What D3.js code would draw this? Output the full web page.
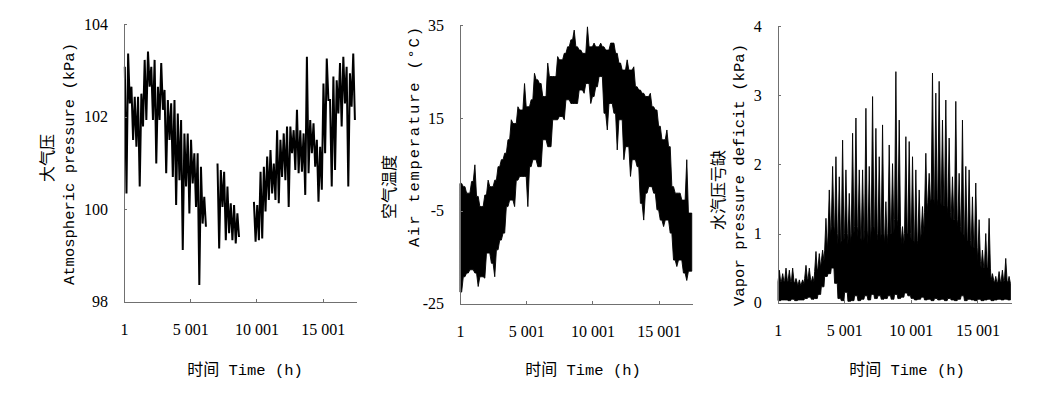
<!doctype html>
<html>
<head>
    <meta charset="utf-8"/>
    <style>
        html, body {
            width: 100%;
            height: 100%;
            margin: 0px;
            background: #fff;
        }
        svg {
            position: absolute;
            top: 0px;
            left: 0px;
        }
        .axis path, .axis line {
            fill: none;
            stroke: #707070;
            shape-rendering: crispEdges;
        }
        .axis text {
            font-family: 'Liberation Serif', 'Times New Roman', serif;
            font-size: 16px;
            fill: #000;
        }
        .title {
            font-family: 'Liberation Mono', monospace;
            font-size: 15.5px;
            fill: #000;
        }
        .cjk {
            font-family: 'Noto Sans CJK SC', sans-serif;
            font-size: 16px;
        }
        .trace {
            fill: none;
            stroke: #000;
            stroke-width: 2px;
        }
        .band {
            fill: #000;
            stroke: #000;
            stroke-width: 0.9px;
            stroke-linejoin: miter;
        }
    </style>
    <script src="https://d3js.org/d3.v7.min.js"></script>
</head>
<body>

<svg width="1038" height="394"></svg>

<script>

    // hourly record, binned: each bin keeps the high and low reading
    var BIN_HOURS = 250;
    var HOUR_MAX = 17520;

    var hourTicks = [1, 5001, 10001, 15001];
    var hourTickLabels = ["1", "5 001", "10 001", "15 001"];

    var pressureTicks = [98, 100, 102, 104];
    var temperatureTicks = [-25, -5, 15, 35];
    var vpdTicks = [0, 1, 2, 3, 4];

    // atmospheric pressure (kPa), null = no record
    var pressureHigh = [
        103.08, 103.37, 102.65, 102.43, 102.43, 102.5, 103.23, 103.41, 103.08, 103.23,
        102.65, 103.16, 102.58, 102.36, 102.29, 102.36, 102.07, 101.93, 101.64, 101.64,
        101.5, 101.21, 101.21, 100.92, 100.27, null, null, null, 100.99, 100.85,
        100.81, 100.49, 100.13, 100.09, 99.91, null, null, null, null, 100.16,
        100.09, 100.81, 100.92, 101.14, 101.28, 100.99, 101.71, 101.5, 101.64, 101.79,
        101.79, 101.71, 102.15, 101.71, 101.64, 103.3, 101.93, 101.86, 101.5, 101.35,
        102.72, 103.26, 102.36, 102.87, 102.79, 103.16, 103.3, 103.08, 102.94, 103.37
    ];
    var pressureLow = [
        100.34, 102.29, 101.5, 101.35, 100.49, 101.79, 101.93, 102.65, 101.93, 100.99,
        101.93, 102.15, 100.78, 101.5, 100.7, 100.09, 100.63, 99.12, 100.49, 99.91,
        100.56, 100.05, 98.36, 99.69, 99.62, null, null, null, 99.15, 100.05,
        99.33, 99.48, 99.33, 99.26, 99.4, null, null, null, null, 99.3,
        99.33, 99.37, 99.95, 100.2, 100.34, 100.2, 100.13, 100.7, 100.63, 100.05,
        101.21, 100.85, 100.78, 100.81, 100.31, 100.78, 101.21, 100.92, 100.16, 100.42,
        101.21, 102.36, 100.49, 100.85, 102.07, 101.79, 102.29, 100.49, 102.22, 101.93
    ];

    // air temperature (°C)
    var temperatureHigh = [
        0.9, 0.2, -1.2, 1.3, 4.9, -1.9, -4.1, -1.6, 1.6, 0.2,
        1.6, 4.5, 6.0, 7.4, 10.3, 14.6, 13.8, 17.4, 16.7, 22.4,
        17.4, 18.9, 24.6, 23.2, 22.4, 19.6, 26.8, 23.9, 23.9, 28.2,
        27.5, 28.9, 30.3, 31.8, 33.9, 30.3, 29.6, 28.9, 34.6, 30.3,
        31.1, 30.3, 31.1, 30.3, 29.6, 31.1, 31.1, 28.9, 26.8, 25.3,
        27.5, 25.3, 26.0, 21.7, 21.0, 20.3, 19.6, 20.3, 17.4, 16.7,
        13.2, 10.3, 12.4, 8.8, 0.2, -1.2, -1.2, -2.7, 6.0, -5.5
    ];
    var temperatureLow = [
        -22.5, -19.2, -18.4, -17.7, -18.4, -21.3, -19.2, -19.5, -14.1, -16.3,
        -19.2, -13.4, -11.3, -9.8, -4.1, -2.7, -4.1, 1.6, 2.4, 2.4,
        -4.1, 4.5, 6.0, 4.5, 4.5, 10.3, 8.8, 8.8, 14.6, 14.6,
        15.3, 14.6, 18.9, 18.1, 18.1, 18.1, 21.0, 20.3, 22.4, 18.1,
        19.6, 21.7, 23.9, 16.0, 12.4, 18.1, 16.0, 8.1, 14.6, 6.0,
        8.8, 2.4, 6.0, 4.5, -3.4, -7.0, -1.2, 0.2, -1.2, -4.8,
        -7.0, -8.4, -7.0, -9.8, -15.6, -17.0, -15.6, -18.4, -20.0, -18.0
    ];

    // vapor pressure deficit (kPa): spike tops, top of the solid mass, bottom
    var vpdHigh = [
        0.47, 0.42, 0.5, 0.47, 0.5, 0.35, 0.33, 0.33, 0.54, 0.5,
        0.38, 0.74, 0.71, 0.76, 1.22, 1.63, 1.97, 2.11, 1.82, 2.35,
        1.92, 1.58, 2.45, 2.67, 1.92, 1.92, 2.81, 1.97, 2.98, 2.52,
        2.11, 2.57, 1.46, 2.28, 2.01, 3.34, 2.64, 1.1, 2.4, 2.33,
        2.11, 1.92, 1.63, 1.39, 2.16, 1.87, 3.32, 3.03, 3.2, 2.64,
        2.93, 2.38, 1.82, 2.91, 1.87, 2.64, 1.97, 1.92, 1.53, 1.73,
        1.2, 0.76, 1.0, 1.22, 0.42, 0.38, 0.45, 0.47, 0.64, 0.38
    ];
    var vpdCore = [
        0.3, 0.3, 0.32, 0.3, 0.3, 0.28, 0.25, 0.27, 0.35, 0.33,
        0.3, 0.45, 0.5, 0.6, 0.75, 0.95, 1.1, 1.0, 0.85, 0.9,
        1.0, 0.85, 1.0, 1.1, 0.95, 0.9, 1.05, 0.85, 1.1, 1.0,
        0.9, 1.0, 0.85, 1.0, 1.0, 1.2, 1.1, 0.85, 1.0, 1.0,
        0.9, 0.85, 0.9, 1.0, 1.3, 1.45, 1.5, 1.4, 1.5, 1.4,
        1.4, 1.3, 1.2, 1.2, 1.1, 1.0, 0.9, 0.9, 0.8, 0.8,
        0.6, 0.5, 0.5, 0.5, 0.32, 0.28, 0.3, 0.3, 0.32, 0.28
    ];
    var vpdLow = [
        0.03, 0.04, 0.04, 0.03, 0.05, 0.03, 0.04, 0.04, 0.06, 0.08,
        0.05, 0.06, 0.12, 0.23, 0.38, 0.42, 0.5, 0.28, 0.06, 0.03,
        0.15, 0.02, 0.03, 0.1, 0.03, 0.05, 0.1, 0.04, 0.12, 0.06,
        0.1, 0.05, 0.06, 0.1, 0.05, 0.12, 0.06, 0.08, 0.14, 0.1,
        0.06, 0.04, 0.05, 0.08, 0.04, 0.05, 0.03, 0.06, 0.04, 0.05,
        0.03, 0.06, 0.04, 0.03, 0.05, 0.1, 0.03, 0.05, 0.04, 0.03,
        0.05, 0.03, 0.04, 0.05, 0.03, 0.04, 0.05, 0.04, 0.05, 0.04
    ];

    var panels = [
        {
            left: 124, right: 356, top: 24.3, bottom: 301.7,
            yDomain: [98, 104], yTicks: pressureTicks,
            mode: "trace", high: pressureHigh, low: pressureLow,
            cn: "大气压", cnX: 46, cnY: 158,
            en: "Atmospheric pressure (kPa)", enX: 70, enY: 164, enLen: 242,
            xTitleX: 245
        },
        {
            left: 460, right: 692, top: 25, bottom: 303.7,
            yDomain: [-25, 35], yTicks: temperatureTicks,
            mode: "band", high: temperatureHigh, low: temperatureLow,
            cn: "空气温度", cnX: 388, cnY: 187,
            en: "Air temperature (°C)", enX: 415, enY: 137, enLen: 220,
            xTitleX: 583
        },
        {
            left: 777.7, right: 1011, top: 26, bottom: 302.7,
            yDomain: [0, 4], yTicks: vpdTicks,
            mode: "spikes", high: vpdHigh, core: vpdCore, low: vpdLow,
            cn: "水汽压亏缺", cnX: 717, cnY: 190,
            en: "Vapor pressure deficit (kPa)", enX: 740, enY: 175, enLen: 262,
            xTitleX: 907
        }
    ];

    var svg = d3.select("svg");

    // where two neighbouring bins meet, keep only the overlap of their ranges,
    // so each bin's extremes stand out as a narrow spike
    function joint(hiA, loA, hiB, loB) {
        if (hiB === null || hiB === undefined) return {top: hiA, bot: loA};
        var top = Math.min(hiA, hiB);
        var bot = Math.max(loA, loB);
        if (bot > top) { top = bot = (top + bot) / 2; }
        return {top: top, bot: bot};
    }

    function bandPoints(high, low) {
        var pts = [];
        high.forEach(function(hi, i) {
            var h0 = i * BIN_HOURS;
            var a = joint(hi, low[i], high[i - 1], low[i - 1]);
            var b = joint(hi, low[i], high[i + 1], low[i + 1]);
            pts.push({h: h0, top: a.top, bot: a.bot});
            pts.push({h: h0 + BIN_HOURS * 0.5, top: hi, bot: low[i]});
            pts.push({h: Math.min(h0 + BIN_HOURS, HOUR_MAX), top: b.top, bot: b.bot});
        });
        return pts;
    }

    function spikePoints(high, core, low) {
        // solid mass up to core, one narrow spike per bin up to the high
        var pts = [];
        high.forEach(function(hi, i) {
            var h0 = i * BIN_HOURS;
            pts.push({h: h0 + BIN_HOURS * 0.1, top: core[i], bot: low[i]});
            pts.push({h: h0 + BIN_HOURS * 0.5, top: hi, bot: low[i]});
            pts.push({h: h0 + BIN_HOURS * 0.9, top: core[i], bot: low[i]});
        });
        return pts;
    }

    function drawSeries(p, x, y) {
        if (p.mode === "trace") {
            // zigzag through each bin: high at first quarter, low at third quarter
            var pts = [];
            p.high.forEach(function(hi, i) {
                var h0 = i * BIN_HOURS;
                pts.push({h: h0 + BIN_HOURS * 0.25, v: hi});
                pts.push({h: h0 + BIN_HOURS * 0.75, v: p.low[i]});
            });
            var line = d3.line()
                .defined(function(d) { return d.v !== null; })
                .x(function(d) { return x(d.h); })
                .y(function(d) { return y(d.v); });
            svg.append("path").attr("class", "trace").attr("d", line(pts));
            return;
        }

        var bandPts = (p.mode === "spikes") ? spikePoints(p.high, p.core, p.low)
                                            : bandPoints(p.high, p.low);
        var area = d3.area()
            .x(function(d) { return x(d.h); })
            .y0(function(d) { return y(d.bot); })
            .y1(function(d) { return y(d.top); });
        svg.append("path").attr("class", "band").attr("d", area(bandPts));
    }

    function drawPanel(p) {
        var x = d3.scaleLinear().domain([1, HOUR_MAX]).range([p.left, p.right]);
        var y = d3.scaleLinear().domain(p.yDomain).range([p.bottom, p.top]);

        drawSeries(p, x, y);

        svg.append("g")
            .attr("class", "axis")
            .attr("transform", "translate(0," + p.bottom + ")")
            .call(d3.axisBottom(x)
                .tickValues(hourTicks)
                .tickSize(-3)
                .tickSizeOuter(0)
                .tickPadding(21.5)
                .tickFormat(function(d, i) { return hourTickLabels[i]; }));

        svg.append("g")
            .attr("class", "axis")
            .attr("transform", "translate(" + p.left + ",0)")
            .call(d3.axisLeft(y)
                .tickValues(p.yTicks)
                .tickSize(-3)
                .tickSizeOuter(0)
                .tickPadding(16)
                .tickFormat(function(d) { return String(d); }));

        svg.append("text")
            .attr("class", "cjk")
            .attr("text-anchor", "middle")
            .attr("dominant-baseline", "central")
            .attr("transform", "translate(" + p.cnX + "," + p.cnY + ") rotate(-90)")
            .text(p.cn);

        svg.append("text")
            .attr("class", "title")
            .attr("text-anchor", "middle")
            .attr("dominant-baseline", "central")
            .attr("textLength", p.enLen)
            .attr("lengthAdjust", "spacing")
            .attr("transform", "translate(" + p.enX + "," + p.enY + ") rotate(-90)")
            .text(p.en);

        var xt = svg.append("text")
            .attr("class", "title")
            .attr("text-anchor", "middle")
            .attr("x", p.xTitleX)
            .attr("y", 375);
        xt.append("tspan").attr("class", "cjk").text("时间");
        xt.append("tspan").text(" Time (h)");
    }

    panels.forEach(drawPanel);

</script>
</body>
</html>
